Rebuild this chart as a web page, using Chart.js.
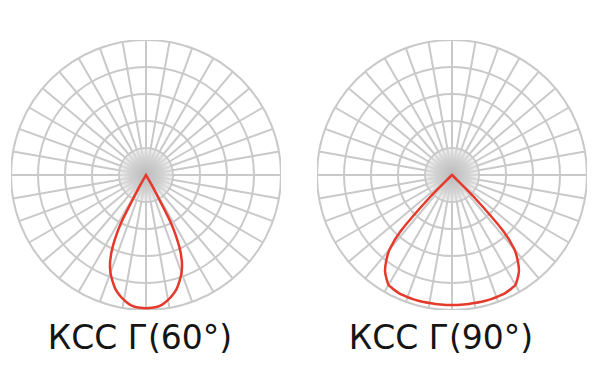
<!DOCTYPE html>
<html>
<head>
<meta charset="utf-8">
<script src="https://cdn.jsdelivr.net/npm/chart.js@4.4.0/dist/chart.umd.min.js"></script>
<style>
  body { margin: 0; background: #fff; width: 600px; height: 390px; position: relative; overflow: hidden; }
  .box { position: absolute; top: 40px; width: 270px; height: 270px; }
  .lbl { position: absolute; top: 321px; font-family: "DejaVu Sans", sans-serif; font-size: 33px; line-height: 33px;
         color: #151515; white-space: nowrap; transform: translateX(-50%); }
</style>
</head>
<body>
<div class="box" style="left:11px"><canvas id="ksc60"></canvas></div>
<div class="box" style="left:317px"><canvas id="ksc90"></canvas></div>
<div class="lbl" style="left:140px">КСС Г(60°)</div>
<div class="lbl" style="left:441px">КСС Г(90°)</div>
<script>
// углы, шаг 2.5° (0° = вниз)
const angleLabels = [
  0, 2.5, 5, 7.5, 10, 12.5, 15, 17.5, 20, 22.5, 25, 27.5,
  30, 32.5, 35, 37.5, 40, 42.5, 45, 47.5, 50, 52.5, 55, 57.5,
  60, 62.5, 65, 67.5, 70, 72.5, 75, 77.5, 80, 82.5, 85, 87.5,
  90, 92.5, 95, 97.5, 100, 102.5, 105, 107.5, 110, 112.5, 115, 117.5,
  120, 122.5, 125, 127.5, 130, 132.5, 135, 137.5, 140, 142.5, 145, 147.5,
  150, 152.5, 155, 157.5, 160, 162.5, 165, 167.5, 170, 172.5, 175, 177.5,
  180, 182.5, 185, 187.5, 190, 192.5, 195, 197.5, 200, 202.5, 205, 207.5,
  210, 212.5, 215, 217.5, 220, 222.5, 225, 227.5, 230, 232.5, 235, 237.5,
  240, 242.5, 245, 247.5, 250, 252.5, 255, 257.5, 260, 262.5, 265, 267.5,
  270, 272.5, 275, 277.5, 280, 282.5, 285, 287.5, 290, 292.5, 295, 297.5,
  300, 302.5, 305, 307.5, 310, 312.5, 315, 317.5, 320, 322.5, 325, 327.5,
  330, 332.5, 335, 337.5, 340, 342.5, 345, 347.5, 350, 352.5, 355, 357.5
];

// сила света по углу гамма, % (дальше ноль)
const gammaDeg = [0, 2.5, 5, 7.5, 10, 12.5, 15, 17.5, 20, 22.5, 25, 27.5, 30, 32.5, 35, 37.5, 40, 42.5, 45, 47.5];
const ksc60 = [98.7, 98.5, 98, 96.5, 94, 91, 87.5, 82.5, 77, 69.5, 58, 40, 8, 0, 0, 0, 0, 0, 0, 0];
const ksc90 = [96.3, 96.3, 96.3, 96.3, 96.3, 96.4, 96.4, 96.4, 96.3, 96.2, 95.7, 95, 94, 90.5, 86.5, 80, 72, 56, 22, 0];

const ringTicks = [20, 40, 60, 80, 100];

// кривая симметрична - берём значение по |гамма|
function fullCurve(profile) {
  return angleLabels.map((a) => {
    const g = Math.min(a, 360 - a);
    const i = gammaDeg.indexOf(g);
    return i >= 0 ? profile[i] : 0;
  });
}

// серое пятно в центре
const centerGlow = {
  id: "centerGlow",
  beforeDatasetsDraw(chart) {
    const r = chart.scales.r;
    const ctx = chart.ctx;
    const rad = r.getDistanceFromCenterForValue(ringTicks[0]) - 1;
    const g = ctx.createRadialGradient(r.xCenter, r.yCenter, 0, r.xCenter, r.yCenter, rad);
    g.addColorStop(0, "rgba(188,188,188,1)");
    g.addColorStop(0.65, "rgba(210,210,210,0.97)");
    g.addColorStop(1, "rgba(226,226,226,0.55)");
    ctx.save();
    ctx.fillStyle = g;
    ctx.beginPath();
    ctx.arc(r.xCenter, r.yCenter, rad, 0, Math.PI * 2);
    ctx.fill();
    ctx.restore();
  },
};

function makeChart(id, profile) {
  const config = {
    type: "radar",
    data: {
      labels: angleLabels,
      datasets: [
        {
          data: fullCurve(profile),
          borderColor: "#e5392b",
          borderWidth: 2.5,
          fill: false,
          pointRadius: 0,
          tension: 0.2,
        },
      ],
    },
    options: {
      responsive: true,
      maintainAspectRatio: false,
      animation: false,
      plugins: {
        legend: { display: false },
        tooltip: { enabled: false },
      },
      scales: {
        r: {
          min: 0,
          max: 100,
          startAngle: 180,
          ticks: { display: false, stepSize: 20 },
          pointLabels: { display: false },
          grid: { circular: true, color: "#c9c9c9", lineWidth: 2 },
          angleLines: {
            color: "#c9c9c9",
            // линия каждые 10°
            lineWidth: (c) => (c.index % 4 === 0 ? 2 : 0),
          },
        },
      },
    },
    plugins: [centerGlow],
  };
  return new Chart(document.getElementById(id), config);
}

makeChart("ksc60", ksc60);
makeChart("ksc90", ksc90);
</script>
</body>
</html>
